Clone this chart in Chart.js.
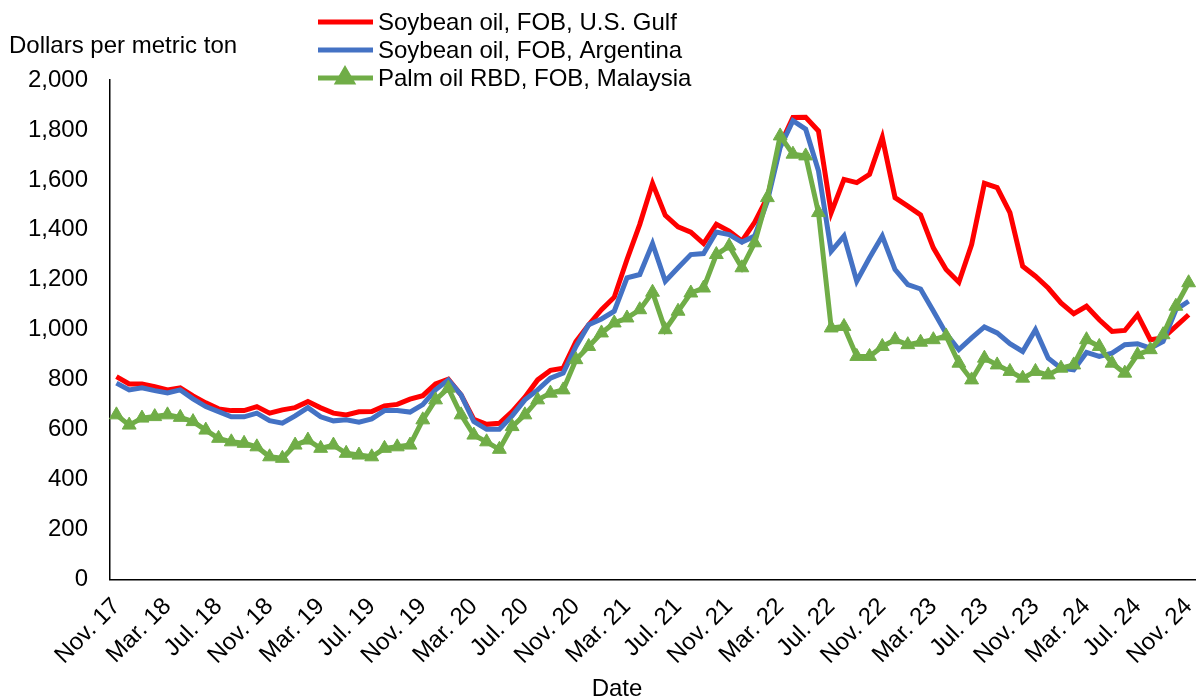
<!DOCTYPE html>
<html>
<head>
<meta charset="utf-8">
<title>Vegetable oil prices</title>
<script src="https://cdn.jsdelivr.net/npm/chart.js@4.4.0/dist/chart.umd.min.js"></script>
<style>
    html, body { margin: 0; padding: 0; background: #fff; overflow: hidden; }
    #wrap { width: 1196px; height: 700px; position: relative; }
    #oilChart { display: block; }
</style>
</head>
<body>
<div id="wrap"><canvas id="oilChart"></canvas></div>
<script>
// --------- Data --------

const months = [
    'Nov. 17', 'Dec. 17',
    'Jan. 18', 'Feb. 18', 'Mar. 18', 'Apr. 18', 'May. 18', 'Jun. 18', 'Jul. 18', 'Aug. 18', 'Sep. 18', 'Oct. 18', 'Nov. 18', 'Dec. 18',
    'Jan. 19', 'Feb. 19', 'Mar. 19', 'Apr. 19', 'May. 19', 'Jun. 19', 'Jul. 19', 'Aug. 19', 'Sep. 19', 'Oct. 19', 'Nov. 19', 'Dec. 19',
    'Jan. 20', 'Feb. 20', 'Mar. 20', 'Apr. 20', 'May. 20', 'Jun. 20', 'Jul. 20', 'Aug. 20', 'Sep. 20', 'Oct. 20', 'Nov. 20', 'Dec. 20',
    'Jan. 21', 'Feb. 21', 'Mar. 21', 'Apr. 21', 'May. 21', 'Jun. 21', 'Jul. 21', 'Aug. 21', 'Sep. 21', 'Oct. 21', 'Nov. 21', 'Dec. 21',
    'Jan. 22', 'Feb. 22', 'Mar. 22', 'Apr. 22', 'May. 22', 'Jun. 22', 'Jul. 22', 'Aug. 22', 'Sep. 22', 'Oct. 22', 'Nov. 22', 'Dec. 22',
    'Jan. 23', 'Feb. 23', 'Mar. 23', 'Apr. 23', 'May. 23', 'Jun. 23', 'Jul. 23', 'Aug. 23', 'Sep. 23', 'Oct. 23', 'Nov. 23', 'Dec. 23',
    'Jan. 24', 'Feb. 24', 'Mar. 24', 'Apr. 24', 'May. 24', 'Jun. 24', 'Jul. 24', 'Aug. 24', 'Sep. 24', 'Oct. 24', 'Nov. 24'
];

// Soybean oil, FOB, U.S. Gulf
const usGulf = [
    812, 783, 783, 772, 759, 767, 735, 707, 683, 676,
    676, 692, 666, 679, 688, 712, 687, 666, 659, 671,
    672, 695, 701, 722, 736, 783, 802, 739, 641, 621,
    625, 672, 730, 799, 837, 846, 953, 1020, 1080, 1130,
    1281, 1422, 1586, 1458, 1412, 1391, 1345, 1422, 1395, 1355,
    1430, 1530, 1740, 1850, 1851, 1796, 1469, 1602, 1589, 1622,
    1770, 1529, 1495, 1460, 1328, 1241, 1190, 1341, 1586, 1569,
    1469, 1254, 1214, 1167, 1107, 1064, 1094, 1040, 993, 997,
    1060, 960, 967, 1013, 1060
];

// Soybean oil, FOB, Argentina
const argentina = [
    786, 759, 767, 756, 747, 759, 723, 692, 672, 651,
    651, 666, 636, 626, 655, 688, 651, 635, 639, 630,
    643, 676, 676, 670, 700, 759, 799, 739, 632, 601,
    601, 655, 719, 759, 806, 826, 933, 1020, 1043, 1074,
    1208, 1221, 1345, 1194, 1248, 1301, 1305, 1391, 1381, 1351,
    1375, 1515, 1730, 1837, 1803, 1636, 1314, 1375, 1194, 1288,
    1375, 1241, 1181, 1163, 1075, 985, 920, 967, 1011, 987,
    944, 913, 1000, 886, 846, 839, 909, 893, 906, 940,
    944, 926, 953, 1080, 1114
];

// Palm oil RBD, FOB, Malaysia
const malaysia = [
    659, 618, 646, 652, 659, 649, 632, 598, 565, 551,
    545, 531, 491, 485, 538, 558, 525, 538, 505, 498,
    491, 525, 531, 538, 639, 719, 766, 659, 578, 551,
    521, 612, 659, 719, 746, 759, 880, 933, 987, 1027,
    1047, 1080, 1150, 1000, 1074, 1147, 1167, 1301, 1335, 1248,
    1348, 1529, 1776, 1703, 1696, 1469, 1007, 1013, 893, 893,
    933, 960, 940, 950, 960, 975, 866, 799, 886, 859,
    833, 806, 833, 819, 846, 859, 960, 933, 866, 826,
    900, 920, 980, 1094, 1188
];

const yMin = 0;
const yMax = 2000;
const yStep = 200;

// --------- Chart --------

const FONT = '"Liberation Sans", Arial, sans-serif';
const FONT_SIZE = 24;

// texts and legend drawn on top of the canvas (Excel style placement)
const extraText = {
    id: 'extraText',
    afterDraw(chart) {
        const ctx = chart.ctx;
        ctx.save();
        ctx.font = FONT_SIZE + 'px ' + FONT;
        ctx.fillStyle = '#000';
        ctx.textBaseline = 'middle';

        ctx.textAlign = 'left';
        ctx.fillText('Dollars per metric ton', 9, 46);

        ctx.textAlign = 'center';
        ctx.fillText('Date', 617, 689);

        // legend
        ctx.textAlign = 'left';
        chart.data.datasets.forEach((ds, i) => {
            const y = 22 + i * 28;
            ctx.strokeStyle = ds.borderColor;
            ctx.lineWidth = 5;
            ctx.beginPath();
            ctx.moveTo(318, y);
            ctx.lineTo(373, y);
            ctx.stroke();
            if (ds.pointStyle === 'triangle') {
                Chart.helpers.drawPoint(ctx, { pointStyle: 'triangle', radius: ds.pointRadius, borderWidth: 1 }, 345, y);
                ctx.fillStyle = ds.backgroundColor;
                ctx.fill();
                ctx.fillStyle = '#000';
            }
            ctx.fillText(ds.label, 378, y + 1);
        });
        ctx.restore();
    }
};

const ctx = document.getElementById('oilChart').getContext('2d');
const oilChart = new Chart(ctx, {
    type: 'line',
    data: {
        labels: months,
        datasets: [{
            label: 'Soybean oil, FOB, U.S. Gulf',
            data: usGulf,
            borderColor: '#FF0000',
            backgroundColor: '#FF0000',
            borderWidth: 5,
            pointRadius: 0,
            tension: 0,
            order: 3
        }, {
            label: 'Soybean oil, FOB, Argentina',
            data: argentina,
            borderColor: '#4472C4',
            backgroundColor: '#4472C4',
            borderWidth: 5,
            pointRadius: 0,
            tension: 0,
            order: 2
        }, {
            label: 'Palm oil RBD, FOB, Malaysia',
            data: malaysia,
            borderColor: '#70AD47',
            backgroundColor: '#70AD47',
            borderWidth: 5,
            pointStyle: 'triangle',
            pointRadius: 8,
            pointBorderWidth: 1,
            pointBackgroundColor: '#70AD47',
            pointBorderColor: '#70AD47',
            tension: 0,
            order: 1
        }]
    },
    options: {
        responsive: true,
        maintainAspectRatio: false,
        animation: false,
        layout: {
            autoPadding: false, // markers may touch the right edge
            padding: { top: 80, left: 6, right: 1, bottom: 17 }
        },
        plugins: {
            legend: { display: false },
            tooltip: { enabled: false }
        },
        scales: {
            x: {
                type: 'category',
                offset: true,
                grid: { display: false, drawTicks: false },
                border: { display: true, color: '#000', width: 1.5 },
                // rotated labels may hang outside the plot, like in Excel
                afterFit: (scale) => {
                    scale.paddingLeft = 0;
                    scale.paddingRight = 0;
                },
                ticks: {
                    autoSkip: false,
                    minRotation: 45,
                    maxRotation: 45,
                    color: '#000',
                    padding: 13,
                    font: { size: FONT_SIZE, family: FONT },
                    callback: function (value, index) {
                        return index % 4 === 0 ? this.getLabelForValue(value) : '';
                    }
                }
            },
            y: {
                min: yMin,
                max: yMax,
                grid: { display: false, drawTicks: false },
                border: { display: true, color: '#000', width: 1.5 },
                ticks: {
                    stepSize: yStep,
                    color: '#000',
                    padding: 22,
                    font: { size: FONT_SIZE, family: FONT },
                    callback: (v) => v.toLocaleString('en-US')
                }
            }
        }
    },
    plugins: [extraText]
});
</script>
</body>
</html>
